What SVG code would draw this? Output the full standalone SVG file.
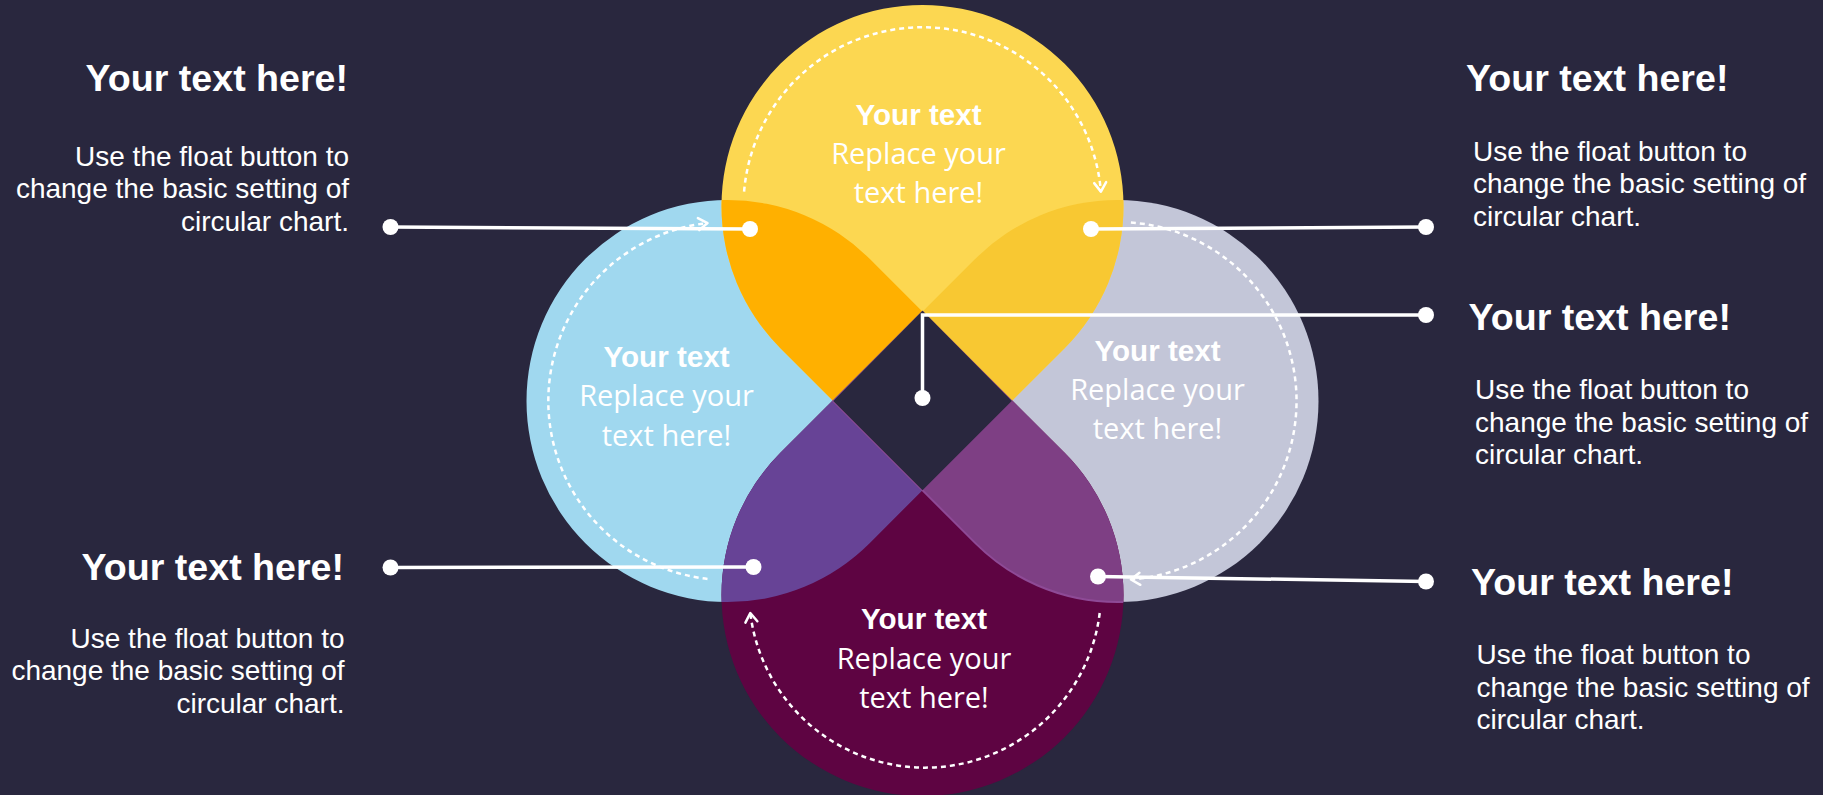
<svg xmlns="http://www.w3.org/2000/svg" width="1823" height="795" viewBox="0 0 1823 795">
<defs>
<style>
.head{font-family:"Liberation Sans",Arial,sans-serif;font-weight:bold;font-size:37.6px;fill:#ffffff}
.body{font-family:"Liberation Sans",Arial,sans-serif;font-size:28px;fill:#ffffff}
.ptitle{font-family:"Liberation Sans",Arial,sans-serif;font-weight:bold;font-size:29.6px;fill:#ffffff;text-anchor:middle}
.ptext{font-family:"Comic Sans MS","Open Sans",sans-serif;font-size:29px;fill:#ffffff;text-anchor:middle}
.dash{fill:none;stroke:#ffffff;stroke-width:2.5;stroke-dasharray:5 4;marker-end:url(#arr)}
.conn{fill:none;stroke:#ffffff;stroke-width:3.5}
.dot{fill:#ffffff}
</style>
<marker id="arr" markerUnits="userSpaceOnUse" markerWidth="20" markerHeight="20" refX="0" refY="0" viewBox="-12 -10 16 20" orient="auto">
<path d="M -9 -6 L 0 0 L -9 6" fill="none" stroke="#ffffff" stroke-width="2.5" stroke-linecap="round" stroke-linejoin="round"/>
</marker>
<path id="pY" d="M 922.5 490.26 L 780.37 348.13 A 201 201 0 1 1 1064.63 348.13 Z"/>
<path id="pB" d="M 1011.76 401 L 869.63 543.13 A 201 201 0 1 1 869.63 258.87 Z"/>
<path id="pG" d="M 833.24 401 L 975.37 258.87 A 201 201 0 1 1 975.37 543.13 Z"/>
<path id="pM" d="M 922.5 310.74 L 1064.63 452.87 A 201 201 0 1 1 780.37 452.87 Z"/>
<clipPath id="cY"><use href="#pY"/></clipPath>
<clipPath id="cM"><use href="#pM"/></clipPath>
</defs>
<rect x="0" y="0" width="1823" height="795" fill="#29273E"/>

<g id="petal-left">
<use href="#pB" fill="#A0D8EF"/>
</g>
<g id="petal-right">
<use href="#pG" fill="#C3C6D8"/>
</g>
<g id="petal-top">
<use href="#pY" fill="#FCD751"/>
</g>
<g id="petal-bottom">
<use href="#pM" fill="#5E0442"/>
</g>
<g id="overlaps">
<g clip-path="url(#cY)"><use href="#pB" fill="#FFB000"/><use href="#pG" fill="#F8C832"/></g>
<g clip-path="url(#cM)"><use href="#pB" fill="#674396"/><use href="#pG" fill="#7E3F84" stroke="#8E4A96" stroke-width="2"/></g>
</g>
<g id="center-diamond">
<polygon points="922.5,310.74 1011.76,401 922.5,490.26 833.24,401" fill="#29273E"/>
</g>

<g id="cycle-arrows">
<path class="dash" d="M 744.1 191.6 A 179 179 0 0 1 1100.9 191.6"/>
<path class="dash" d="M 1130.9 222.5 A 179 179 0 0 1 1130.9 579.5"/>
<path class="dash" d="M 1099.7 613 A 176 176 0 0 1 750.3 613"/>
<path class="dash" d="M 707.5 578.9 A 179 179 0 0 1 707.5 223.1"/>
</g>

<g id="petal-top-text">
<text class="ptitle" x="918.5" y="125">Your text</text>
<text class="ptext" x="918.5" y="164">Replace your</text>
<text class="ptext" x="918.5" y="203">text here!</text>
</g>
<g id="petal-left-text">
<text class="ptitle" x="666.5" y="367">Your text</text>
<text class="ptext" x="666.5" y="406">Replace your</text>
<text class="ptext" x="666.5" y="446">text here!</text>
</g>
<g id="petal-right-text">
<text class="ptitle" x="1157.5" y="361">Your text</text>
<text class="ptext" x="1157.5" y="399.5">Replace your</text>
<text class="ptext" x="1157.5" y="438.5">text here!</text>
</g>
<g id="petal-bottom-text">
<text class="ptitle" x="924" y="629">Your text</text>
<text class="ptext" x="924" y="668.5">Replace your</text>
<text class="ptext" x="924" y="708">text here!</text>
</g>

<g id="connectors">
<path class="conn" d="M 390.5 227 L 750 229"/>
<path class="conn" d="M 390.5 567.5 L 753.5 567"/>
<path class="conn" d="M 1091 229 L 1426 227"/>
<path class="conn" d="M 922.5 398 L 922.5 315 L 1426 315"/>
<path class="conn" d="M 1098 576.5 L 1426 581.5"/>
<circle class="dot" cx="390.5" cy="227" r="8"/>
<circle class="dot" cx="750" cy="229" r="8"/>
<circle class="dot" cx="390.5" cy="567.5" r="8"/>
<circle class="dot" cx="753.5" cy="567" r="8"/>
<circle class="dot" cx="1091" cy="229" r="8"/>
<circle class="dot" cx="1426" cy="227" r="8"/>
<circle class="dot" cx="922.5" cy="398" r="8"/>
<circle class="dot" cx="1426" cy="315" r="8"/>
<circle class="dot" cx="1098" cy="576.5" r="8"/>
<circle class="dot" cx="1426" cy="581.5" r="8"/>
</g>

<g id="label-left-top">
<text class="head" x="348" y="91" text-anchor="end">Your text here!</text>
<text class="body" x="349" y="165.5" text-anchor="end">Use the float button to</text>
<text class="body" x="349" y="198" text-anchor="end">change the basic setting of</text>
<text class="body" x="349" y="230.5" text-anchor="end">circular chart.</text>
</g>
<g id="label-left-bottom">
<text class="head" x="344" y="580" text-anchor="end">Your text here!</text>
<text class="body" x="344.5" y="647.5" text-anchor="end">Use the float button to</text>
<text class="body" x="344.5" y="680" text-anchor="end">change the basic setting of</text>
<text class="body" x="344.5" y="712.5" text-anchor="end">circular chart.</text>
</g>
<g id="label-right-top">
<text class="head" x="1466" y="91">Your text here!</text>
<text class="body" x="1473" y="160.5">Use the float button to</text>
<text class="body" x="1473" y="193">change the basic setting of</text>
<text class="body" x="1473" y="225.5">circular chart.</text>
</g>
<g id="label-right-middle">
<text class="head" x="1468.5" y="330">Your text here!</text>
<text class="body" x="1475" y="399">Use the float button to</text>
<text class="body" x="1475" y="431.5">change the basic setting of</text>
<text class="body" x="1475" y="464">circular chart.</text>
</g>
<g id="label-right-bottom">
<text class="head" x="1471" y="594.5">Your text here!</text>
<text class="body" x="1476.5" y="664">Use the float button to</text>
<text class="body" x="1476.5" y="696.5">change the basic setting of</text>
<text class="body" x="1476.5" y="729">circular chart.</text>
</g>
</svg>
